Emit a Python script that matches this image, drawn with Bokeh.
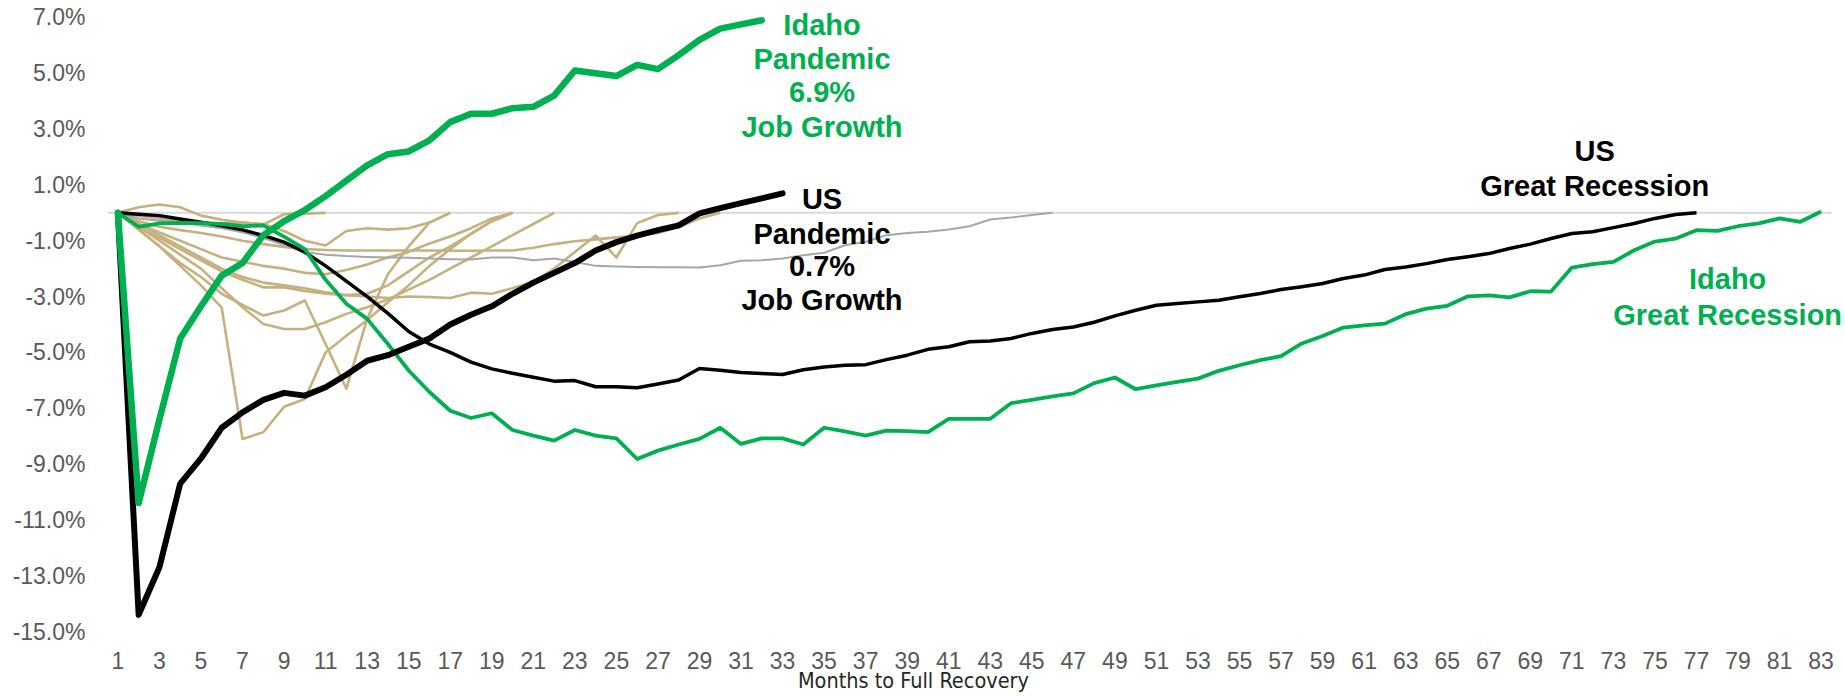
from bokeh.plotting import figure
from bokeh.models import (Range1d, FixedTicker, PrintfTickFormatter, Label,
                          LinearAxis, CustomJSTickFormatter)
from bokeh.embed import file_html
from bokeh.resources import INLINE

# ---------------- data (percent change in jobs from pre-recession peak) ----------------
us_pandemic = [0, -14.4, -12.7, -9.7, -8.8, -7.7, -7.15, -6.7, -6.45, -6.55,
               -6.25, -5.8, -5.3, -5.1, -4.8, -4.5, -4.0, -3.65, -3.35, -2.9,
               -2.5, -2.15, -1.8, -1.35, -1.05, -0.82, -0.62, -0.45, -0.02, 0.17,
               0.35, 0.52, 0.7]
idaho_pandemic = [0, -10.4, -7.4, -4.5, -3.35, -2.25, -1.8, -0.8, -0.3, 0.1,
                  0.6, 1.15, 1.7, 2.1, 2.2, 2.6, 3.25, 3.55, 3.55, 3.75,
                  3.8, 4.2, 5.1, 5.0, 4.9, 5.3, 5.15, 5.65, 6.2, 6.6,
                  6.75, 6.9]
us_great_recession = [0, -0.05, -0.1, -0.22, -0.34, -0.46, -0.61, -0.81, -1.05, -1.41,
                      -1.9, -2.45, -3.0, -3.6, -4.25, -4.7, -5.0, -5.35, -5.59, -5.75,
                      -5.89, -6.03, -6.01, -6.23, -6.23, -6.27, -6.13, -5.99, -5.58, -5.64,
                      -5.72, -5.76, -5.79, -5.62, -5.52, -5.46, -5.44, -5.26, -5.1, -4.89,
                      -4.8, -4.62, -4.59, -4.5, -4.32, -4.18, -4.09, -3.92, -3.69, -3.49,
                      -3.31, -3.25, -3.19, -3.13, -3.01, -2.89, -2.75, -2.65, -2.53, -2.35,
                      -2.23, -2.03, -1.94, -1.82, -1.67, -1.57, -1.46, -1.28, -1.12, -0.92,
                      -0.74, -0.68, -0.53, -0.38, -0.2, -0.06, 0.0]
idaho_great_recession = [0, -0.5, -0.38, -0.36, -0.37, -0.4, -0.48, -0.45, -0.85, -1.3,
                         -2.4, -3.26, -3.8, -4.7, -5.65, -6.42, -7.09, -7.35, -7.18, -7.78,
                         -7.98, -8.16, -7.78, -7.98, -8.08, -8.82, -8.52, -8.3, -8.1, -7.7,
                         -8.28, -8.08, -8.08, -8.3, -7.7, -7.83, -7.98, -7.8, -7.82, -7.86,
                         -7.38, -7.38, -7.38, -6.82, -6.7, -6.58, -6.47, -6.1, -5.9, -6.32,
                         -6.18, -6.06, -5.94, -5.66, -5.46, -5.28, -5.13, -4.68, -4.41, -4.11,
                         -4.03, -3.97, -3.63, -3.43, -3.33, -2.99, -2.96, -3.03, -2.81, -2.82,
                         -1.96, -1.84, -1.76, -1.34, -1.03, -0.92, -0.62, -0.65, -0.48, -0.38,
                         -0.2, -0.32, 0.05]
us_2001 = [0, -0.2, -0.28, -0.35, -0.45, -0.55, -0.7, -0.9, -1.15, -1.4,
           -1.5, -1.55, -1.58, -1.6, -1.61, -1.64, -1.66, -1.67, -1.6, -1.6,
           -1.7, -1.64, -1.76, -1.9, -1.92, -1.94, -1.95, -1.95, -1.96, -1.88,
           -1.72, -1.7, -1.64, -1.52, -1.43, -1.16, -1.04, -0.8, -0.72, -0.68,
           -0.6, -0.48, -0.24, -0.17, -0.08, 0]
past_a = [0, 0.2, 0.3, 0.2, -0.1, -0.25, -0.35, -0.4, -0.65, -1.0, -1.17, -0.65, -0.55, -0.6, -0.55, -0.35, 0]
past_b = [0, -0.1, -0.2, -0.3, -0.35, -0.38, -0.35, -0.42, -0.05, -0.03, 0]
past_c = [0, -0.3, -0.5, -0.62, -0.72, -0.85, -1.0, -1.12, -1.22, -1.3,
          -1.33, -1.35, -1.35, -1.35, -1.35, -1.35, -1.36, -1.36, -1.35, -1.35,
          -1.25, -1.12, -1.02, -0.95, -0.88, -0.82, -0.72, -0.52, -0.2, 0]
past_d = [0, -0.6, -1.2, -1.8, -2.3, -2.9, -3.3, -3.68, -3.5, -3.14, -4.7, -6.3, -3.8, -2.2, -1.2, -0.35, 0]
past_e = [0, -0.6, -1.2, -1.9, -2.6, -3.4, -8.1, -7.86, -6.95, -6.67, -5.0, -4.4, -3.85, -3.2, -2.6, -1.9, -1.3, -0.75, -0.3, 0]
past_f = [0, -0.5, -1.0, -1.5, -2.0, -2.7, -3.38, -3.98, -4.16, -4.16, -3.92, -3.62, -3.38, -3.1, -2.75, -2.4, -2.0, -1.6, -1.2, -0.8, -0.4, 0]
past_g = [0, -0.4, -0.8, -1.2, -1.6, -2.0, -2.3, -2.5, -2.6, -2.7, -2.85, -2.95, -3.0, -3.05, -3.0, -3.02, -3.05, -2.86, -2.9, -2.7, -2.47, -2.0, -1.4, -0.81, -1.6, -0.37, -0.08, 0]
past_h = [0, -0.4, -0.7, -1.0, -1.3, -1.6, -1.75, -1.9, -2.0, -2.15, -2.2, -2.05, -1.85, -1.6, -1.4, -1.1, -0.85, -0.55, -0.2, 0]
past_i = [0, -0.5, -0.9, -1.3, -1.7, -2.1, -2.4, -2.67, -2.67, -2.8, -2.9, -2.95, -2.9, -2.6, -2.1, -1.6, -1.2, -0.75, -0.3, 0]
past_recessions = [past_a, past_b, past_c, past_d, past_e, past_f, past_g, past_h, past_i]

month_ticks = list(range(1, 84, 2))
value_ticks = list(range(-15, 8, 2))
x_title = "Months to Full Recovery"

GREEN = "#00B050"
BLACK = "#000000"
TAN = "#C6B07E"
GRAY = "#A6A6A6"


def months(vals):
    return list(range(1, len(vals) + 1))


n_months = len(idaho_great_recession)
x_lo, x_hi = 0.5, n_months + 0.5

# frame extends a little past the axis limits (top / right) so that the text labels are not clipped
p = figure(width=1845, height=697, x_range=Range1d(x_lo, x_hi + 0.674), y_range=Range1d(-15, 7.5),
           output_backend="svg", toolbar_location=None,
           min_border_left=107, min_border_right=0, min_border_top=3, min_border_bottom=66)
p.xgrid.visible = False
p.ygrid.visible = False
p.outline_line_color = None
p.background_fill_color = "white"
p.border_fill_color = "white"

for ax in (p.xaxis, p.yaxis):
    ax.axis_line_color = None
    ax.major_tick_line_color = None
    ax.minor_tick_line_color = None
    ax.major_tick_out = 0
    ax.major_tick_in = 0
    ax.major_label_text_font = "Liberation Sans"
    ax.major_label_text_font_size = "23px"
    ax.major_label_text_color = "#595959"

p.xaxis.ticker = FixedTicker(ticks=month_ticks)
p.yaxis.ticker = FixedTicker(ticks=value_ticks)
p.yaxis.formatter = PrintfTickFormatter(format="%.1f%%")
p.yaxis.major_label_standoff = 22
p.xaxis.major_label_standoff = 20

# axis title, drawn as the single label of a second (bare) bottom axis so it can sit off-centre
title_axis = LinearAxis(ticker=FixedTicker(ticks=[39.3]),
                        formatter=CustomJSTickFormatter(args=dict(t=x_title), code="return t"),
                        axis_line_color=None, major_tick_line_color=None, minor_tick_line_color=None,
                        major_tick_in=0, major_tick_out=0, major_label_standoff=-4,
                        major_label_text_font="DejaVu Sans Condensed, Liberation Sans",
                        major_label_text_font_size="21.5px", major_label_text_color="#262626")
p.add_layout(title_axis, "below")

# zero (category axis) line
p.line([x_lo, x_hi], [0, 0], line_color="#D9D9D9", line_width=2)

for series in past_recessions:
    p.line(months(series), series, line_color=TAN, line_width=2.6, line_join="round")
p.line(months(us_2001), us_2001, line_color=GRAY, line_width=2, line_join="round")
p.line(months(us_great_recession), us_great_recession, line_color=BLACK, line_width=3.5, line_join="round")
p.line(months(idaho_great_recession), idaho_great_recession, line_color=GREEN, line_width=3.8, line_join="round")
p.line(months(us_pandemic), us_pandemic, line_color=BLACK, line_width=6, line_join="round", line_cap="round")
p.line(months(idaho_pandemic), idaho_pandemic, line_color=GREEN, line_width=6.5, line_join="round", line_cap="round")


def lbl(x, y, text, color):
    p.add_layout(Label(x=x, y=y, text=text, text_align="center", text_baseline="alphabetic",
                       text_font="Liberation Sans", text_font_size="29px", text_font_style="bold",
                       text_color=color))


for y, t in zip([6.73, 5.50, 4.34, 3.09], ["Idaho", "Pandemic", "6.9%", "Job Growth"]):
    lbl(34.9, y, t, GREEN)
for y, t in zip([0.50, -0.76, -1.92, -3.12], ["US", "Pandemic", "0.7%", "Job Growth"]):
    lbl(34.9, y, t, BLACK)
for y, t in zip([2.22, 0.96], ["US", "Great Recession"]):
    lbl(72.1, y, t, BLACK)
for y, t in zip([-2.38, -3.66], ["Idaho", "Great Recession"]):
    lbl(78.5, y, t, GREEN)

open("out.html", "w").write(file_html(p, INLINE))
